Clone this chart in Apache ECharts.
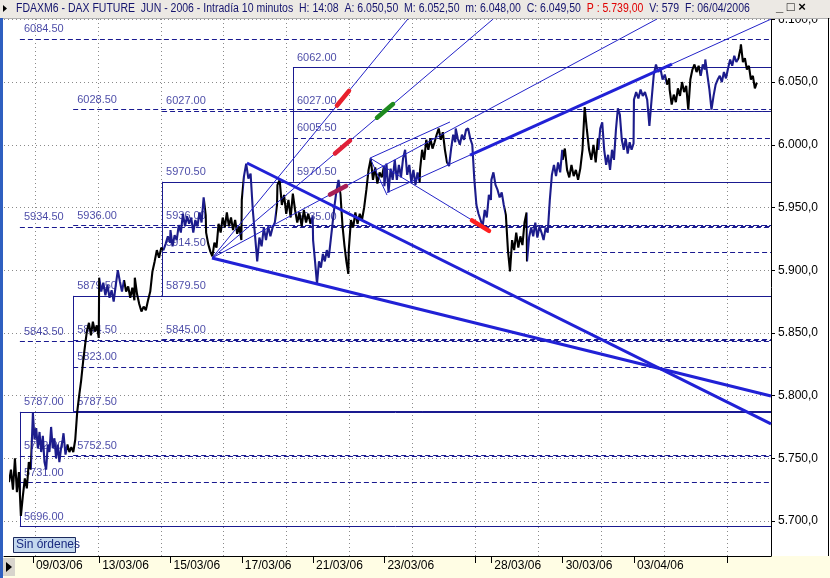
<!DOCTYPE html>
<html><head><meta charset="utf-8">
<script src="https://cdn.jsdelivr.net/npm/echarts@6/dist/echarts.min.js"></script>
<style>html,body{margin:0;padding:0;background:#fff}#c{width:830px;height:578px}</style>
</head><body><div id="c"></div>
<script>
// ---- time axis: 10-minute bars counted from 08/03/06 07:50 (85 bars per session)
const sessionDates = ['08/03/06','09/03/06','10/03/06','13/03/06','14/03/06','15/03/06','16/03/06','17/03/06','20/03/06','21/03/06','22/03/06','23/03/06','24/03/06','27/03/06','28/03/06','29/03/06','30/03/06','31/03/06','03/04/06','04/04/06','05/04/06','06/04/06'];
const sessionBars = [[40,92],[97,168],[170,254],[255,339],[340,424],[425,509],[510,594],[595,679],[680,764],[765,849],[850,934],[935,1019],[1020,1104],[1105,1189],[1190,1274],[1275,1359],[1360,1444],[1445,1529],[1530,1614],[1615,1699],[1700,1784],[1785,1823]];
const sessionPrices = [
 [5731,5741,5725,5750,5723,5739,5704,5720,5734,5726,5747,5741],
 [5786,5765,5774,5758,5771,5755,5768,5747,5741,5761,5755,5775,5758,5766,5750,5761,5747,5758,5765],
 [5770,5753,5761,5755,5759,5755,5765,5787,5800,5812,5827,5840,5852,5858,5848,5859,5851,5856,5846],
 [5894,5883,5890,5880,5888,5878,5884,5875,5888,5900,5891,5883,5892,5883,5887,5878,5886,5876],
 [5894,5881,5873,5867,5871,5868,5876,5883,5899,5907,5916,5910,5918,5916,5921,5927,5922],
 [5932,5919,5928,5924,5936,5930,5945,5935,5943,5937,5942,5930,5940,5935,5946,5938,5958,5944],
 [5930,5921,5915,5911,5922,5918,5937,5930,5942,5934,5946,5935,5942,5932,5940,5929,5935,5924],
 [5956,5975,5985,5973,5977,5948,5928,5907,5926,5919,5934,5924,5935,5927,5934,5938,5952],
 [5968,5972,5952,5960,5945,5956,5942,5961,5948,5938,5946,5935,5948,5938,5945,5937,5943],
 [5924,5907,5889,5907,5902,5913,5907,5916,5910,5924,5938,5952,5964,5972,5960,5936,5920,5907,5897],
 [5916,5940,5934,5946,5937,5945,5940,5950,5964,5980,5989,5972,5982,5969,5978,5974,5983],
 [5967,5985,5962,5981,5972,5988,5972,5984,5974,5989,5996,5976,5984,5970,5980,5968,5978,5970],
 [5980,5996,5988,6004,5996,6005,5997,6002,6008,6013,6004,6010,5996,5986,5983,5997,6008,6002],
 [6013,6005,6000,6008,6004,6012,6013,6005,6000,5972,5952,5945,5940,5935,5948,5942,5960,5956],
 [5972,5978,5968,5964,5958,5962,5952,5944,5916,5899,5924,5916,5930,5918,5927,5920,5938,5946],
 [5907,5926,5934,5927,5938,5926,5935,5930,5924,5934,5930,5956,5976,5984,5975,5986,5978,5996],
 [5988,5997,5980,5974,5984,5975,5980,5972,5981,5996,6030,6012,5996,5988,6000,5986,6005],
 [5996,6013,6018,5996,5984,5992,5980,5996,5988,6012,6029,6024,6004,5996,6005,5993,6002,5996,6001],
 [6036,6042,6037,6044,6039,6042,6036,6015,6036,6056,6064,6058,6061,6052,6056,6048,6053],
 [6044,6032,6040,6034,6045,6039,6050,6042,6047,6028,6052,6060,6064,6058,6063,6055,6064,6060],
 [6068,6056,6044,6028,6039,6048,6052,6055,6050,6058,6053,6061,6068,6063,6071,6066,6069,6077],
 [6080,6066,6069,6060,6063,6052,6055,6045,6049.5]
];
const lastPrice = 6049.5;
// bar colouring runs (bar where the run starts, colour)
const runStartBars = [40,92,178,257,314,407,507,598,677,760,829,932,1017,1084,1223,1275,1361,1444,1606,1687,1778];
const runColors = ['#000','#1c1c8c','#000','#1c1c8c','#000','#1c1c8c','#000','#1c1c8c','#000','#1c1c8c','#000','#1c1c8c','#000','#1c1c8c','#000','#1c1c8c','#000','#1c1c8c','#000','#1c1c8c','#000'];
// axes
const xMin = 28.1, xMax = 1856.7, yMin = 5672.1, yMax = 6100.3;
const dateTickBars = [97,255,425,595,765,935,1190,1360,1530];
const dateTickLabels = ['09/03/06','13/03/06','15/03/06','17/03/06','21/03/06','23/03/06','28/03/06','30/03/06','03/04/06'];
const extraTickBars = [1152,1752];
const gridBars = [102,252,402,552,702,852,1002,1152,1302,1452,1602,1752];
const priceTicks = [5700,5750,5800,5850,5900,5950,6000,6050,6100];
// Fibonacci boxes
const fibStartBar = [66,193,405,717];
const fibLow = [5696,5787.5,5879.5,5970.5];
const fibHigh = [5787,5879.5,5970.5,6062];
const fibDashed = [[5731,5752,5843.5,5934.5,6084.5],[5752.5,5823,5844.5,5936,6028.5],[5845,5914.5,5936,6027],[5935,6005.5,6027]];
// trend lines [bar1, price1, bar2, price2]
const thinLines = [
 [524,5909.7,991,6100.3],
 [524,5909.7,1194.4,6100.3],
 [524,5909.7,1584.9,6100.3],
 [900.7,5989.4,1091.4,6018.2],
 [900.7,5989.4,941.2,5959.9],
 [941.2,5961.9,1139.1,5991.8],
 [900.7,5989.4,1174.8,5933.6],
 [1620.6,6064.4,1856.7,6100.2]
];
const thickLines = [
 [607.4,5985.5,1856.7,5777.4],
 [524,5909.7,1856.7,5799.7],
 [1139.1,5991.8,1620.6,6064.4]
];
const markerLines = [
 [822.0,6031.3,850.6,6043.0],
 [817.2,5993.1,853.0,6003.3],
 [805.3,5960.3,843.5,5967.1],
 [917.4,6021.6,955.5,6032.5],
 [1143.8,5939.7,1184.4,5931.4]
];
const markerColors = ['#e8202c','#e02038','#a81f55','#1f8a1f','#ff2020'];
const headerParts = ['FDAXM6 - DAX FUTURE  JUN - 2006 - Intradía 10 minutos  H: 14:08  A: 6.050,50  M: 6.052,50  m: 6.048,00  C: 6.049,50  ', 'P : 5.739,00', '  V: 579  F: 06/04/2006'];

const priceData = [];
sessionPrices.forEach((arr, d) => {
  const a = sessionBars[d][0], b = sessionBars[d][1], n = arr.length;
  arr.forEach((p, k) => priceData.push([a + (b - a) * k / (n - 1), p]));
});
const pieces = runStartBars.map((s, i) => i < runStartBars.length - 1 ? {gte: s, lt: runStartBars[i+1], color: runColors[i]} : {gte: s, color: runColors[i]});

const LV = '#1a1a90';
const seg = (l, extra) => Object.assign({coords: [[l[0], l[1]], [l[2], l[3]]]}, extra || {});
const gridData = gridBars.map(g => seg([g, yMin, g, yMax])).concat(priceTicks.map(p => seg([xMin, p, xMax, p])));
const solidData = [], dashData = [], labelData = [];
fibStartBar.forEach((s, i) => {
  solidData.push(seg([s, fibLow[i], xMax, fibLow[i]]));
  solidData.push(seg([s, fibHigh[i], xMax, fibHigh[i]]));
  solidData.push(seg([s, fibLow[i], s, fibHigh[i]]));
  labelData.push([s, fibLow[i], fibLow[i].toFixed(2)]);
  labelData.push([s, fibHigh[i], fibHigh[i].toFixed(2)]);
  fibDashed[i].forEach(p => { dashData.push(seg([s, p, xMax, p])); labelData.push([s, p, p.toFixed(2)]); });
});
const fmtPrice = v => { const s = v.toFixed(1).split('.'); return s[0].replace(/\B(?=(\d{3})+(?!\d))/g, '.') + ',' + s[1]; };
const dateLabelOf = v => { const i = dateTickBars.indexOf(v); return i >= 0 ? dateTickLabels[i] : ''; };
const FONT = 'Liberation Sans, Arial, sans-serif';

const chart = echarts.init(document.getElementById('c'));
chart.setOption({
  animation: false,
  backgroundColor: '#ffffff',
  grid: {left: 4, right: 59, top: 19, bottom: 22},
  xAxis: {
    type: 'value', min: xMin, max: xMax,
    axisLine: {show: true, lineStyle: {color: '#000', width: 1}},
    axisTick: {show: true, length: 7, lineStyle: {color: '#000'}, customValues: dateTickBars.concat(extraTickBars)},
    axisLabel: {customValues: dateTickBars, formatter: v => dateLabelOf(v), align: 'left', padding: [0,0,0,3], margin: 4, fontSize: 12, color: '#000', fontFamily: FONT},
    splitLine: {show: false}
  },
  yAxis: {
    type: 'value', position: 'right', min: yMin, max: yMax,
    axisLine: {show: true, lineStyle: {color: '#000', width: 1}},
    axisTick: {show: true, length: 4, lineStyle: {color: '#000'}, customValues: priceTicks},
    axisLabel: {customValues: priceTicks, formatter: v => fmtPrice(v), margin: 7, fontSize: 12, color: '#000', fontFamily: FONT},
    splitLine: {show: false}
  },
  visualMap: {show: false, type: 'piecewise', dimension: 0, seriesIndex: 4, pieces: pieces},
  series: [
    {type: 'lines', coordinateSystem: 'cartesian2d', silent: true, z: 1, data: gridData,
     lineStyle: {color: '#8a8a8a', width: 1, type: [1, 3], opacity: 1}},
    {type: 'lines', coordinateSystem: 'cartesian2d', silent: true, z: 2, data: solidData,
     lineStyle: {color: LV, width: 1, opacity: 1}},
    {type: 'lines', coordinateSystem: 'cartesian2d', silent: true, z: 2, data: dashData,
     lineStyle: {color: LV, width: 1, type: [5, 3], opacity: 1}},
    {type: 'scatter', silent: true, z: 3, symbolSize: 0, data: labelData,
     label: {show: true, position: [4, -15], formatter: p => p.value[2], fontSize: 11, color: LV, fontFamily: FONT}},
    {type: 'line', z: 4, silent: true, symbol: 'none', data: priceData,
     lineStyle: {width: 2.1},
     markLine: {silent: true, symbol: ['none','none'], lineStyle: {opacity: 0},
       data: [{yAxis: lastPrice}],
       label: {show: true, position: 'end', distance: 5, formatter: fmtPrice(lastPrice), color: '#000', fontSize: 12, fontFamily: FONT,
         backgroundColor: '#ffff88', borderColor: '#000', borderWidth: 1, padding: [2, 2, 1, 2]}}},
    {type: 'lines', coordinateSystem: 'cartesian2d', silent: true, z: 5, data: thinLines.map(l => seg(l)),
     lineStyle: {color: '#2323c8', width: 1, opacity: 1}},
    {type: 'lines', coordinateSystem: 'cartesian2d', silent: true, z: 6, data: thickLines.map(l => seg(l)),
     lineStyle: {color: '#2121d6', width: 3, opacity: 1}},
    {type: 'lines', coordinateSystem: 'cartesian2d', silent: true, z: 7,
     data: markerLines.map((l, i) => seg(l, {lineStyle: {color: markerColors[i]}})),
     lineStyle: {width: 4.5, cap: 'round', opacity: 1}}
  ],
  graphic: [
    {type: 'rect', z: -1, shape: {x: 4, y: 556, width: 826, height: 22}, style: {fill: '#fffde4'}},
    {type: 'rect', z: 50, shape: {x: 0, y: 0, width: 830, height: 18}, style: {fill: '#ece9e4'}},
    {type: 'line', z: 51, shape: {x1: 0, y1: 18.5, x2: 830, y2: 18.5}, style: {stroke: '#b0b0b0', lineWidth: 1}},
    {type: 'polygon', z: 52, shape: {points: [[3,5],[7,8.5],[3,12]]}, style: {fill: '#000'}},
    {type: 'text', z: 53, x: 16, y: 3, scaleX: 0.875,
     style: {text: '{n|' + headerParts[0] + '}{r|' + headerParts[1] + '}{n|' + headerParts[2] + '}',
       rich: {n: {fontFamily: FONT, fontSize: 12, fill: '#14146e'}, r: {fontFamily: FONT, fontSize: 12, fill: '#e00000'}}}},
    {type: 'text', z: 53, x: 776, y: 1, style: {text: '_ □ ×', font: 'bold 13px ' + FONT, fill: '#000'}},
    {type: 'rect', z: 52, shape: {x: 0, y: 18, width: 3, height: 560}, style: {fill: '#2f5fc0'}},
    {type: 'line', z: 52, shape: {x1: 828.5, y1: 18, x2: 828.5, y2: 556}, style: {stroke: '#000', lineWidth: 1}},
    {type: 'rect', z: 52, shape: {x: 3, y: 558, width: 12, height: 18}, style: {fill: '#d8d4cc'}},
    {type: 'polygon', z: 53, shape: {points: [[6,562],[12,567],[6,572]]}, style: {fill: '#000'}},
    {type: 'rect', z: 52, shape: {x: 13.5, y: 537.5, width: 62, height: 15}, style: {fill: '#c4d8ee', stroke: '#1c2a5c', lineWidth: 1}},
    {type: 'text', z: 53, x: 16, y: 539, style: {text: 'Sin órdenes', font: '12px ' + FONT, fill: '#1a2a80'}}
  ]
});
</script></body></html>
